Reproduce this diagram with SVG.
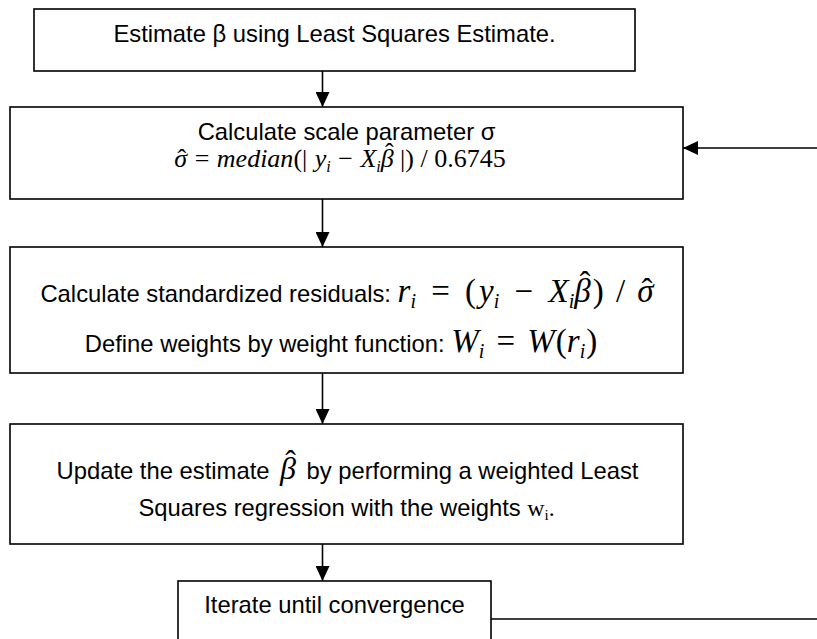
<svg xmlns="http://www.w3.org/2000/svg" width="817" height="639" viewBox="0 0 817 639">
<style>
.box{fill:#fff;stroke:#000;stroke-width:1.6}
.t{font-family:"Liberation Sans",Arial,sans-serif;font-size:23.8px;fill:#000;text-anchor:middle}
.m{font-family:"Liberation Serif","Times New Roman",serif;font-style:italic}
.u{font-style:normal}
.c{fill:none;stroke:#000;stroke-width:1.6}
</style>
<defs>
<marker id="ah" markerUnits="userSpaceOnUse" viewBox="0 0 15 14" refX="15" refY="7" markerWidth="15" markerHeight="14" orient="auto"><path d="M0,0L15,7L0,14z" fill="#000"/></marker>
</defs>
<rect width="817" height="639" fill="#fff"/>
<g id="connectors">
<path class="c" d="M322.5,71V107" marker-end="url(#ah)"/>
<path class="c" d="M322.5,199V247" marker-end="url(#ah)"/>
<path class="c" d="M322.5,373V424" marker-end="url(#ah)"/>
<path class="c" d="M322.5,544V581" marker-end="url(#ah)"/>
<path class="c" d="M491,619H830V148H683" marker-end="url(#ah)"/>
</g>
<g id="n1">
<rect class="box" x="34" y="9" width="601" height="62"/>
<text class="t" x="334.5" y="42">Estimate β using Least Squares Estimate.</text>
</g>
<g id="n2">
<rect class="box" x="10" y="107" width="673" height="92"/>
<text class="t" x="346.5" y="140">Calculate scale parameter σ</text>
<text class="t m" x="340" y="167" style="font-size:26px">σ<tspan class="u" dx="-9.6">ˆ</tspan><tspan class="u" dx="2"> =</tspan><tspan dx="1"> median</tspan><tspan class="u">(</tspan><tspan class="u">|</tspan><tspan dx="1"> y</tspan><tspan font-size="16" dy="5">i</tspan><tspan class="u" dy="-5" dx="1"> −</tspan><tspan dx="1"> X</tspan><tspan font-size="16" dy="5">i</tspan><tspan dy="-5">β</tspan><tspan class="u" dx="-8.8" dy="-6">ˆ</tspan><tspan class="u" dy="6"> |)</tspan><tspan class="u"> /</tspan><tspan class="u"> 0.6745</tspan></text>
</g>
<g id="n3">
<rect class="box" x="10" y="247" width="673" height="126"/>
<text class="t" x="347" y="302">Calculate standardized residuals: <tspan class="m" font-size="33">r<tspan font-size="20" dy="6">i</tspan><tspan class="u" dy="-6" dx="7"> =</tspan><tspan class="u" dx="7"> (</tspan><tspan dx="3">y</tspan><tspan font-size="20" dy="6">i</tspan><tspan class="u" dy="-6" dx="7"> −</tspan><tspan dx="7"> X</tspan><tspan font-size="20" dy="6">i</tspan><tspan dy="-6">β</tspan><tspan class="u" dx="-11.2" dy="-7">ˆ</tspan><tspan class="u" dy="7" dx="2.2">)</tspan><tspan class="u" dx="4"> /</tspan><tspan dx="4"> σ</tspan><tspan class="u" dx="-12.2">ˆ</tspan></tspan></text>
<text class="t" x="341" y="352">Define weights by weight function: <tspan class="m" font-size="33">W<tspan font-size="20" dy="6">i</tspan><tspan class="u" dy="-6" dx="4"> =</tspan><tspan dx="4"> W</tspan><tspan class="u" dx="1">(</tspan>r<tspan font-size="20" dy="6">i</tspan><tspan class="u" dy="-6" dx="1">)</tspan></tspan></text>
</g>
<g id="n4">
<rect class="box" x="10" y="424" width="673" height="120"/>
<text class="t" x="347.5" y="479">Update the estimate <tspan class="m" font-size="32" dx="4">β<tspan class="u" dx="-10.9" dy="-7">ˆ</tspan></tspan><tspan dy="7" dx="4"> by performing a weighted Least</tspan></text>
<text class="t" x="346.5" y="516">Squares regression with the weights <tspan class="m u">w<tspan font-size="15" dy="4">i</tspan><tspan dy="-4">.</tspan></tspan></text>
</g>
<g id="n5">
<rect class="box" x="178" y="581" width="313" height="70"/>
<text class="t" x="334.5" y="613">Iterate until convergence</text>
</g>
</svg>
